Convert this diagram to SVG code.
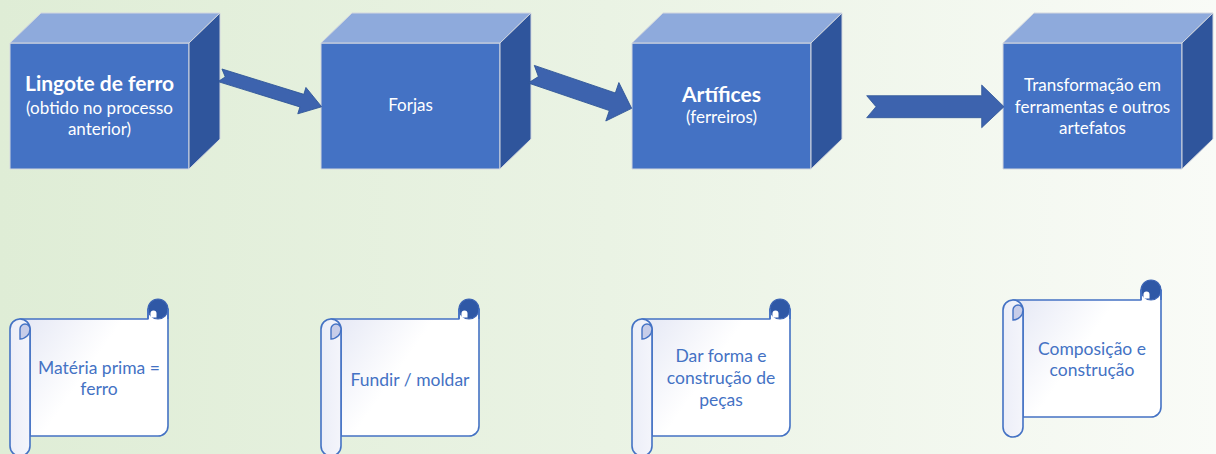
<svg xmlns="http://www.w3.org/2000/svg" width="1216" height="454" viewBox="0 0 1216 454">
<defs>
  <linearGradient id="bg" x1="0" y1="0" x2="1" y2="0">
    <stop offset="0" stop-color="#dfedd6"/>
    <stop offset="0.5" stop-color="#eaf3e4"/>
    <stop offset="1" stop-color="#f9fbf7"/>
  </linearGradient>
  <linearGradient id="sheet" x1="0" y1="0" x2="1" y2="0.6">
    <stop offset="0" stop-color="#e3e6f4"/>
    <stop offset="0.55" stop-color="#ffffff"/>
    <stop offset="1" stop-color="#ffffff"/>
  </linearGradient>
  <linearGradient id="roll" x1="0" y1="0" x2="1" y2="0">
    <stop offset="0" stop-color="#eceef8"/>
    <stop offset="1" stop-color="#f4f5fb"/>
  </linearGradient>
  <g id="scroll">
    <path class="sc" fill="url(#sheet)" d="M10,20 H138 V10 H158 V127 A10,10 0 0 1 148,137 H20 V30 Z"/>
    <circle cx="148" cy="10" r="10" fill="#2f58a6" stroke="#3c64b4" stroke-width="1.2"/>
    <path d="M140.5,18.5 V14.5 A3,3 0 0 1 146.5,14.5 V18.5 Z" fill="#ffffff"/>
    <path class="sc" fill="none" d="M138,20 V10 M158,10 V20"/>
    <path class="sc" fill="url(#roll)" d="M0,30 A10,10 0 0 1 20,30 V147 A10,10 0 0 1 0,147 Z"/>
    <path d="M10,40 V30 A5,5 0 0 1 20,30 A10,10 0 0 1 10,40 Z" fill="#c7cde9" stroke="#4472c4" stroke-width="1.4"/>
  </g>
</defs>
<style>
  .front{fill:#4472c4;stroke:#d3d7df;stroke-width:1}
  .top{fill:#8eaadc;stroke:#d3d7df;stroke-width:1}
  .side{fill:#2f559c;stroke:#d3d7df;stroke-width:1}
  .arrow{fill:#3d63ae;stroke:#2f5597;stroke-width:0.8}
  .sc{stroke:#4472c4;stroke-width:1.6;stroke-linejoin:round}
  .ct{font-family:Lato,"Liberation Sans",sans-serif;fill:#ffffff;text-anchor:middle;font-size:17px}
  .cb{font-family:Lato,"Liberation Sans",sans-serif;fill:#ffffff;text-anchor:middle;font-size:21px;font-weight:bold}
  .st{font-family:Lato,"Liberation Sans",sans-serif;fill:#4472c4;text-anchor:middle;font-size:17.5px}
</style>
<rect x="0" y="0" width="1216" height="454" fill="url(#bg)"/>

<g id="cube1">
  <polygon class="front" points="10,43 189,43 189,169 10,169"/>
  <polygon class="top" points="10,43 41,13 220,13 189,43"/>
  <polygon class="side" points="189,43 220,13 220,139 189,169"/>
  <text class="cb" x="99.5" y="91">Lingote de ferro</text>
  <text class="ct" x="99.5" y="114">(obtido no processo</text>
  <text class="ct" x="99.5" y="135">anterior)</text>
</g>
<g id="cube2">
  <polygon class="front" points="321,43 500,43 500,169 321,169"/>
  <polygon class="top" points="321,43 352,13 531,13 500,43"/>
  <polygon class="side" points="500,43 531,13 531,139 500,169"/>
  <text class="ct" x="410.5" y="111">Forjas</text>
</g>
<g id="cube3">
  <polygon class="front" points="632,43 811,43 811,169 632,169"/>
  <polygon class="top" points="632,43 663,13 842,13 811,43"/>
  <polygon class="side" points="811,43 842,13 842,139 811,169"/>
  <text class="cb" x="721.5" y="102">Artífices</text>
  <text class="ct" x="721.5" y="123">(ferreiros)</text>
</g>
<g id="cube4">
  <polygon class="front" points="1003,43 1182,43 1182,169 1003,169"/>
  <polygon class="top" points="1003,43 1034,13 1213,13 1182,43"/>
  <polygon class="side" points="1182,43 1213,13 1213,139 1182,169"/>
  <text class="ct" x="1092.5" y="91">Transformação em</text>
  <text class="ct" x="1092.5" y="113">ferramentas e outros</text>
  <text class="ct" x="1092.5" y="134">artefatos</text>
</g>

<g id="connectors">
  <polygon class="arrow" transform="translate(220,75.3) rotate(17.2)" points="0,-6.6 85.7,-6.6 85.7,-13.8 106.4,0 85.7,13.8 85.7,6.6 0,6.6 5.5,0"/>
  <polygon class="arrow" transform="translate(531.3,74.2) rotate(18.8)" points="0,-9.3 85.6,-9.3 85.6,-20.3 106,0 85.6,20.3 85.6,9.3 0,9.3 7.5,0"/>
  <polygon class="arrow" points="866.7,95.7 981.7,95.7 981.7,85 1004,106.7 981.7,127.7 981.7,117.7 866.7,117.7 876,106.7"/>
</g>

<g id="scroll1">
  <use href="#scroll" x="10" y="299"/>
  <text class="st" x="99" y="374">Matéria prima =</text>
  <text class="st" x="99" y="395">ferro</text>
</g>
<g id="scroll2">
  <use href="#scroll" x="321" y="299"/>
  <text class="st" x="410" y="386">Fundir / moldar</text>
</g>
<g id="scroll3">
  <use href="#scroll" x="632" y="299"/>
  <text class="st" x="721" y="362">Dar forma e</text>
  <text class="st" x="721" y="384">construção de</text>
  <text class="st" x="721" y="406">peças</text>
</g>
<g id="scroll4">
  <use href="#scroll" x="1003" y="280"/>
  <text class="st" x="1092" y="355">Composição e</text>
  <text class="st" x="1092" y="376">construção</text>
</g>
</svg>
